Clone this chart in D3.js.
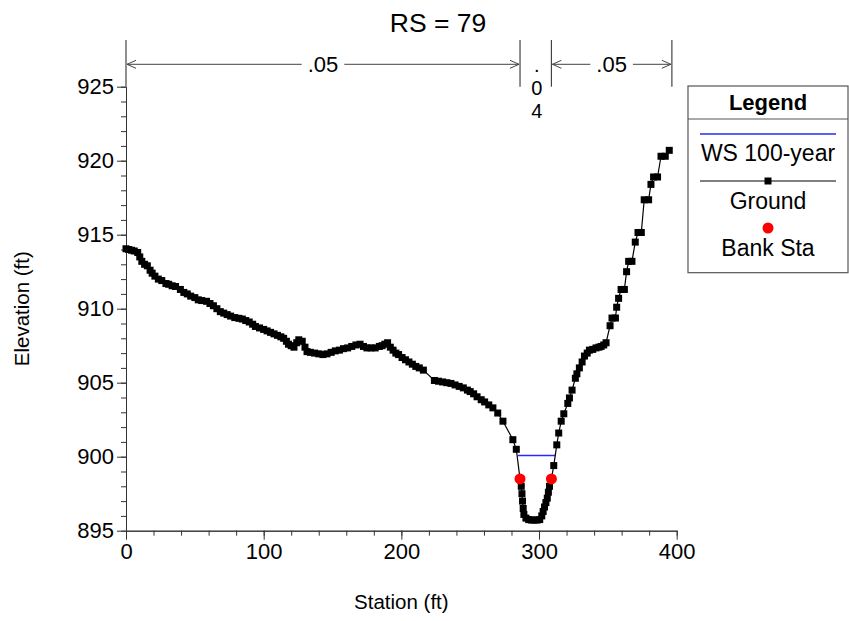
<!DOCTYPE html>
<html>
<head>
<meta charset="utf-8">
<script src="https://cdn.jsdelivr.net/npm/d3@7"></script>
<style>
    body { margin: 0; background: #fff; }
    text { font-family: "Liberation Sans", Arial, sans-serif; fill: #000; }
</style>
</head>
<body>
<div id="chart"></div>
<script>
// ground profile, [station (ft), elevation (ft)]
const groundPoints = [
    [0, 914.05], [2, 914.0], [4, 913.95], [6, 913.9], [8.5, 913.8], [10, 913.5], [11.5, 913.2],
    [13.5, 913.0], [15.5, 912.9], [17.5, 912.6], [19, 912.4], [21, 912.2], [23.5, 912.0],
    [26, 911.9], [29, 911.7], [31, 911.65], [33.5, 911.55], [36, 911.5], [39.5, 911.3],
    [42, 911.1], [44.5, 911.0], [47, 910.85], [50, 910.75], [52.5, 910.6], [55, 910.55],
    [58.5, 910.5], [61, 910.35], [63.5, 910.2], [66, 910.0], [68.5, 909.8], [71, 909.7],
    [73.5, 909.6], [76, 909.5], [79, 909.4], [82, 909.35], [84.5, 909.3], [87, 909.2],
    [89.5, 909.1], [92, 908.95], [94, 908.8], [97, 908.7], [100, 908.6], [102.5, 908.5],
    [105, 908.4], [107.5, 908.3], [110, 908.2], [112.5, 908.1], [114.5, 908.0], [116.5, 907.8],
    [118, 907.6], [120, 907.5], [122, 907.4], [124, 907.7], [125.5, 907.9], [128, 907.8],
    [130, 907.4], [131.5, 907.1], [134, 907.05], [137, 907.0], [140, 906.95], [143, 906.9],
    [146, 906.95], [149, 907.05], [152, 907.15], [155, 907.2], [158, 907.3], [161, 907.35],
    [164, 907.45], [167, 907.55], [170, 907.6], [172.5, 907.45], [175, 907.35], [178, 907.35],
    [181, 907.35], [184, 907.45], [186, 907.5], [188, 907.6], [190, 907.7], [192, 907.4],
    [194, 907.2], [196, 907.0], [198, 906.9], [200.5, 906.7], [203, 906.55], [205.5, 906.4],
    [208, 906.25], [210.5, 906.1], [213, 906.0], [216, 905.85], [224, 905.15], [227, 905.1],
    [230, 905.05], [233, 905.0], [236, 904.95], [239, 904.85], [242, 904.75], [245, 904.65],
    [248, 904.5], [250, 904.4], [252.5, 904.25], [255, 904.05], [258, 903.85], [260.5, 903.7],
    [263.5, 903.5], [266.5, 903.3], [270, 902.95], [273.8, 902.4], [281, 901.15], [283.5, 900.5],
    [286.2, 898.5], [287.1, 898.0], [287.6, 897.5], [288, 897.0], [288.5, 896.5], [289, 896.1],
    [290.5, 895.85], [292.5, 895.75], [294.5, 895.72], [296.5, 895.72], [298.5, 895.72],
    [300.5, 895.75], [302, 896.0], [303, 896.3], [304, 896.6], [305, 896.9], [306, 897.2],
    [306.8, 897.6], [307.6, 898.0], [309, 898.5], [310.7, 899.4], [312.9, 900.8], [314.3, 901.6],
    [316.1, 902.4], [318, 902.9], [320.9, 903.6], [322.1, 903.97], [324, 904.5], [326.4, 905.3],
    [327.5, 905.6], [329.3, 906.0], [331.3, 906.4], [333, 906.8], [335, 907.0], [336.6, 907.2],
    [339, 907.25], [341.4, 907.35], [343.5, 907.4], [345.1, 907.45], [347, 907.55], [348.7, 907.7],
    [351.6, 908.85], [353, 909.37], [355.5, 909.37], [356.4, 910.1], [357.8, 910.7], [359.6, 911.3],
    [362, 911.3], [363.6, 912.5], [365.1, 913.2], [367.5, 913.2], [369.9, 914.5], [371.9, 915.15],
    [374.3, 915.15], [376.4, 917.36], [379.6, 917.36], [381.3, 918.4], [383.2, 918.9], [386.1, 918.9],
    [388.6, 920.3], [391.7, 920.3], [394.6, 920.7]
];

const bankStations = [286.2, 309.0];
const bankElev = 898.5;

const wsStations = [284.6, 311.9];
const wsElev = 900.08;

const nBreaks = [0, 286.2, 309.0, 396.5];
const nValues = [".05", ".04", ".05"];

const xMajorTicks = [0, 100, 200, 300, 400];
const xMinorTicks = d3.range(0, 401, 20);
const yMajorTicks = [895, 900, 905, 910, 915, 920, 925];
const yMinorTicks = d3.range(895, 926, 1);

const legendItems = ["WS 100-year", "Ground", "Bank Sta"];

class CrossSectionChart {
    constructor(_parentElement) {
        this.parentElement = _parentElement;
        this.initVis();
    }

    initVis() {
        let vis = this;

        vis.svg = d3.select("#" + vis.parentElement).append("svg")
            .attr("width", 849)
            .attr("height", 621);

        vis.x = d3.scaleLinear().domain([0, 400]).range([126, 676.7]);
        vis.y = d3.scaleLinear().domain([895, 925]).range([530.7, 86.7]);

        // Axes
        const axisColor = "#333";
        const yMinor = vis.svg.append("g")
            .attr("transform", `translate(${vis.x(0)},0)`)
            .call(d3.axisLeft(vis.y).tickValues(yMinorTicks).tickSize(5).tickSizeOuter(0).tickFormat(""));
        const yMajor = vis.svg.append("g")
            .attr("transform", `translate(${vis.x(0)},0)`)
            .call(d3.axisLeft(vis.y).tickValues(yMajorTicks).tickSize(9).tickSizeOuter(0).tickPadding(3));
        const xMinor = vis.svg.append("g")
            .attr("transform", `translate(0,${vis.y(895)})`)
            .call(d3.axisBottom(vis.x).tickValues(xMinorTicks).tickSize(5).tickSizeOuter(0).tickFormat(""));
        const xMajor = vis.svg.append("g")
            .attr("transform", `translate(0,${vis.y(895)})`)
            .call(d3.axisBottom(vis.x).tickValues(xMajorTicks).tickSize(9).tickSizeOuter(0).tickPadding(4));

        [yMinor, yMajor, xMinor, xMajor].forEach(g => {
            g.selectAll("path, line").attr("stroke", axisColor);
            g.selectAll("text")
                .style("font-size", "22px")
                .style("font-family", "'Liberation Sans', Arial, sans-serif")
                .attr("fill", "#000");
        });

        vis.svg.append("text")
            .attr("x", (vis.x(0) + vis.x(400)) / 2)
            .attr("y", 609)
            .attr("text-anchor", "middle")
            .style("font-size", "20.5px")
            .text("Station (ft)");

        vis.svg.append("text")
            .attr("transform", `translate(29, ${(vis.y(895) + vis.y(925)) / 2}) rotate(-90)`)
            .attr("text-anchor", "middle")
            .style("font-size", "20.5px")
            .text("Elevation (ft)");

        vis.svg.append("text")
            .attr("x", 438)
            .attr("y", 32)
            .attr("text-anchor", "middle")
            .style("font-size", "26.5px")
            .text("RS = 79");

        vis.drawRoughness();

        // Water surface
        vis.svg.append("line")
            .attr("x1", vis.x(wsStations[0]))
            .attr("x2", vis.x(wsStations[1]))
            .attr("y1", vis.y(wsElev))
            .attr("y2", vis.y(wsElev))
            .attr("stroke", "#2828ff")
            .attr("stroke-width", 1.5);

        // Ground
        const line = d3.line()
            .x(d => vis.x(d[0]))
            .y(d => vis.y(d[1]));

        vis.svg.append("path")
            .datum(groundPoints)
            .attr("d", line)
            .attr("fill", "none")
            .attr("stroke", "#000")
            .attr("stroke-width", 1.2);

        vis.svg.selectAll(".gpt")
            .data(groundPoints)
            .enter().append("rect")
            .attr("class", "gpt")
            .attr("x", d => vis.x(d[0]) - 3.5)
            .attr("y", d => vis.y(d[1]) - 3.5)
            .attr("width", 7)
            .attr("height", 7)
            .attr("fill", "#000");

        // Bank stations
        vis.svg.selectAll(".bank")
            .data(bankStations)
            .enter().append("circle")
            .attr("class", "bank")
            .attr("cx", d => vis.x(d))
            .attr("cy", vis.y(bankElev))
            .attr("r", 5.5)
            .attr("fill", "#ff0000");

        vis.drawLegend();
    }

    drawRoughness() {
        let vis = this;
        const yArrow = 64.3;
        const top = 40, bottom = vis.y(925);
        const g = vis.svg.append("g").attr("stroke", "#444").attr("fill", "none");

        nBreaks.forEach(s => {
            g.append("line")
                .attr("x1", vis.x(s)).attr("x2", vis.x(s))
                .attr("y1", top).attr("y2", bottom)
                .attr("stroke-width", 1.2);
        });

        nValues.forEach((v, i) => {
            const x0 = vis.x(nBreaks[i]);
            const x1 = vis.x(nBreaks[i + 1]);
            const cx = (x0 + x1) / 2;

            if (x1 - x0 < 50) {
                // narrow subsection: stack the characters
                v.split("").forEach((c, j) => {
                    vis.svg.append("text")
                        .attr("x", cx + 1)
                        .attr("y", 72 + j * 23)
                        .attr("text-anchor", "middle")
                        .style("font-size", "20px")
                        .text(c);
                });
                return;
            }

            const t = vis.svg.append("text")
                .attr("x", cx)
                .attr("y", yArrow + 8)
                .attr("text-anchor", "middle")
                .style("font-size", "22px")
                .text(v);
            const half = t.node().getComputedTextLength() / 2 + 6;

            g.append("line").attr("x1", x0 + 1).attr("x2", cx - half)
                .attr("y1", yArrow).attr("y2", yArrow);
            g.append("line").attr("x1", cx + half).attr("x2", x1 - 1)
                .attr("y1", yArrow).attr("y2", yArrow);

            // open arrow heads
            g.append("path")
                .attr("d", `M${x0 + 10},${yArrow - 4}L${x0 + 1},${yArrow}L${x0 + 10},${yArrow + 4}`);
            g.append("path")
                .attr("d", `M${x1 - 10},${yArrow - 4}L${x1 - 1},${yArrow}L${x1 - 10},${yArrow + 4}`);
        });
    }

    drawLegend() {
        let vis = this;
        const left = 688, right = 848, top = 86, bottom = 272.7;
        const cx = (left + right) / 2;

        const g = vis.svg.append("g");
        g.append("rect")
            .attr("x", left).attr("y", top)
            .attr("width", right - left).attr("height", bottom - top)
            .attr("fill", "#fff").attr("stroke", "#555").attr("stroke-width", 1.2);
        g.append("line")
            .attr("x1", left).attr("x2", right)
            .attr("y1", 119).attr("y2", 119)
            .attr("stroke", "#555").attr("stroke-width", 1.2);

        g.append("text")
            .attr("x", cx).attr("y", 110)
            .attr("text-anchor", "middle")
            .style("font-size", "22px").style("font-weight", "bold")
            .text("Legend");

        // WS
        g.append("line")
            .attr("x1", left + 12).attr("x2", right - 12)
            .attr("y1", 134).attr("y2", 134)
            .attr("stroke", "#2828ff").attr("stroke-width", 1.5);
        g.append("text")
            .attr("x", cx).attr("y", 161)
            .attr("text-anchor", "middle")
            .style("font-size", "23px")
            .text(legendItems[0]);

        // Ground
        g.append("line")
            .attr("x1", left + 12).attr("x2", right - 12)
            .attr("y1", 181).attr("y2", 181)
            .attr("stroke", "#000").attr("stroke-width", 1);
        g.append("rect")
            .attr("x", cx - 3.5).attr("y", 181 - 3.5)
            .attr("width", 7).attr("height", 7)
            .attr("fill", "#000");
        g.append("text")
            .attr("x", cx).attr("y", 209)
            .attr("text-anchor", "middle")
            .style("font-size", "23px")
            .text(legendItems[1]);

        // Bank Sta
        g.append("circle")
            .attr("cx", cx).attr("cy", 228)
            .attr("r", 5.5)
            .attr("fill", "#ff0000");
        g.append("text")
            .attr("x", cx).attr("y", 256)
            .attr("text-anchor", "middle")
            .style("font-size", "23px")
            .text(legendItems[2]);
    }
}

new CrossSectionChart("chart");
</script>
</body>
</html>
